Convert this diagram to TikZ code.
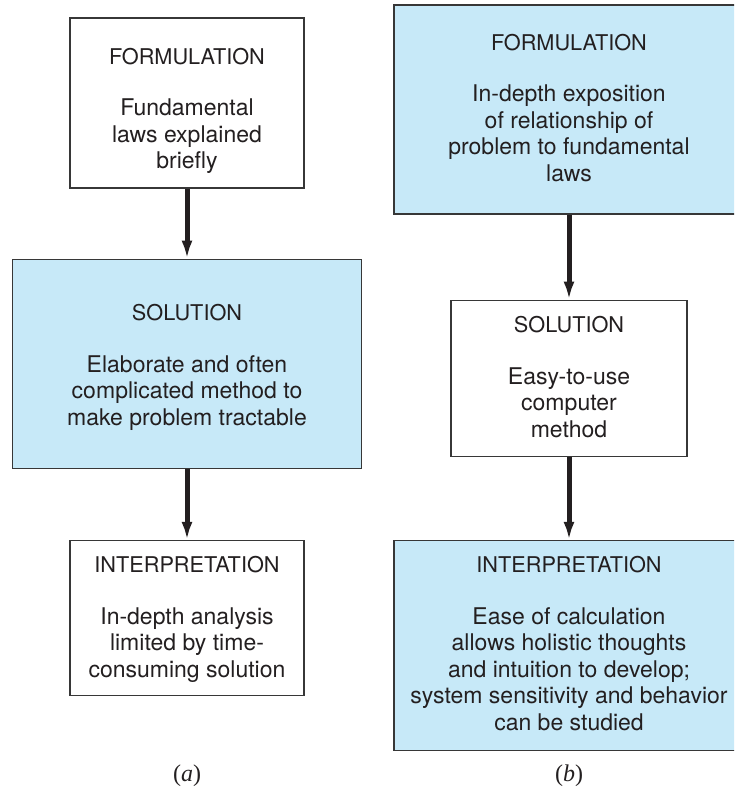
\documentclass[tikz,border=0pt]{standalone}
\usepackage{fontspec}
\setmainfont{TeX Gyre Heros}
\newfontfamily\capfont{Liberation Serif}
\usetikzlibrary{arrows.meta, positioning}
\definecolor{boxblue}{RGB}{199,233,248}
\definecolor{inkgray}{RGB}{35,31,32}
\definecolor{edgegray}{RGB}{55,55,55}
\newcommand\boxtitle[1]{{\fontsize{21.7}{26.5}\selectfont #1}}

\begin{document}
\begin{tikzpicture}[x=1pt,y=-1pt,
      plain box/.style={rectangle,draw=edgegray,line width=1.3pt,fill=white},
      blue box/.style={plain box,fill=boxblue},
      box text/.style={anchor=base,align=center,inner sep=0pt,text=inkgray,
          font=\fontsize{23}{26.5}\selectfont},
      cap text/.style={anchor=base,inner sep=0pt,text=inkgray,
          font=\capfont\fontsize{24}{28}\selectfont},
      flow/.style={-{Latex[length=18pt,width=11pt]},line width=5pt,draw=inkgray}]

      \clip (0,0) rectangle (734,787);

      % (a)
      \node[plain box, minimum width=234pt, minimum height=170pt] (formA) at (187,103) {};
      \node[blue box, minimum width=349pt, minimum height=209pt] (solA) [below=70pt of formA] {};
      \node[plain box, minimum width=234pt, minimum height=155pt] (intA) [below=71pt of solA] {};

      % (b)
      \node[blue box, minimum width=350pt, minimum height=209pt] (formB) at (569,109.5) {};
      \node[plain box, minimum width=236pt, minimum height=156pt] (solB) [below=85pt of formB] {};
      \node[blue box, minimum width=350pt, minimum height=210pt] (intB) [below=83pt of solB] {};

      % texts sit on the baseline of their last line
      \node[box text] (formAtxt) at ([yshift=-151.5pt]formA.north)
          {\boxtitle{FORMULATION}\\[25pt]Fundamental\\laws explained\\briefly};
      \node[box text] (solAtxt) at ([yshift=-166.5pt]solA.north)
          {\boxtitle{SOLUTION}\\[25pt]Elaborate and often\\complicated method to\\make problem tractable};
      \node[box text] (intAtxt) at ([yshift=-137.5pt]intA.north)
          {\boxtitle{INTERPRETATION}\\[25pt]In-depth analysis\\limited by time-\\consuming solution};
      \node[box text] (formBtxt) at ([yshift=-177pt]formB.north)
          {\boxtitle{FORMULATION}\\[25pt]In-depth exposition\\of relationship of\\problem to fundamental\\laws};
      \node[box text] (solBtxt) at ([yshift=-137.5pt]solB.north)
          {\boxtitle{SOLUTION}\\[25pt]Easy-to-use\\computer\\method};
      \node[box text] (intBtxt) at ([yshift=-190.5pt]intB.north)
          {\boxtitle{INTERPRETATION}\\[25pt]Ease of calculation\\allows holistic thoughts\\and intuition to develop;\\system sensitivity and behavior\\can be studied};

      \foreach \s/\t in {formA/solA, solA/intA, formB/solB, solB/intB} {
          \path[flow] (\s) edge (\t);}

      \node[cap text] (capA) at ([yshift=-85pt]intA.south) {(\textit{a})};
      \node[cap text] (capB) at ([yshift=-30pt]intB.south) {(\textit{b})};
      \end{tikzpicture}
\end{document}
